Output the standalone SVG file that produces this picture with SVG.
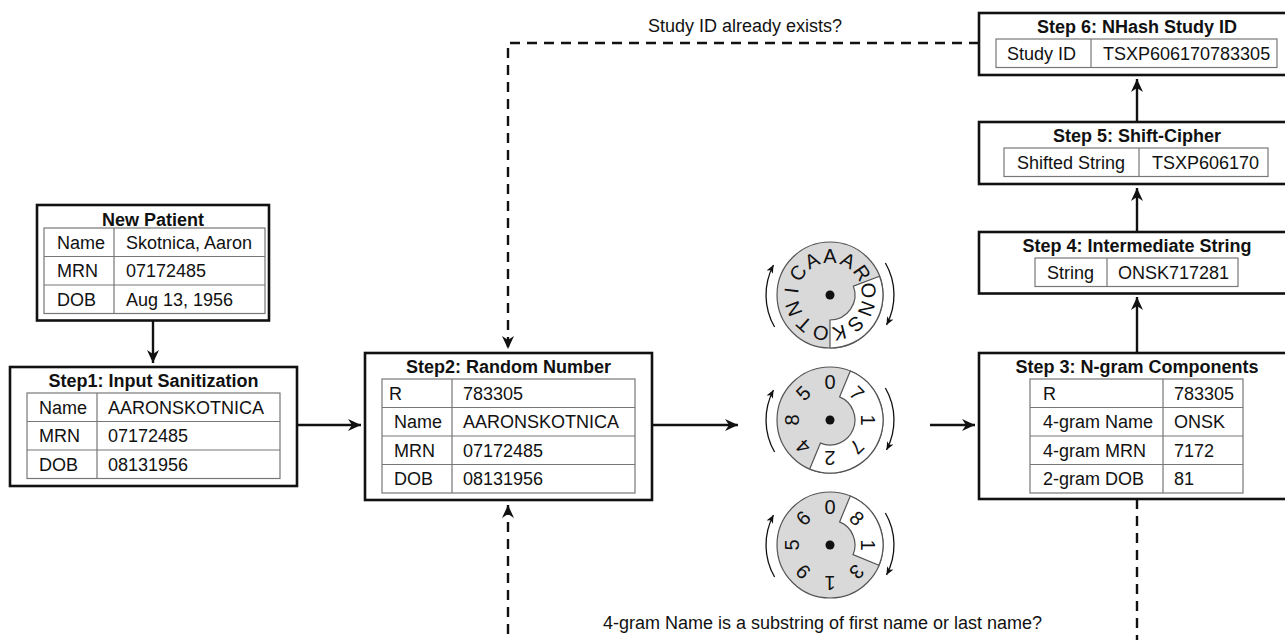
<svg xmlns="http://www.w3.org/2000/svg" width="1285" height="640" viewBox="0 0 1285 640">
<style>
.box{fill:#fff;stroke:#111;stroke-width:2.6}
.tbl{fill:none;stroke:#777;stroke-width:1.2}
.t{font-family:"Liberation Sans",Arial,sans-serif;font-size:18px;fill:#111}
.h{font-weight:bold;text-anchor:middle}
.m{text-anchor:middle}
.dt{font-family:"Liberation Sans",Arial,sans-serif;font-size:20px;fill:#111;text-anchor:middle}
.conn{fill:none;stroke:#111;stroke-width:2.4}
.dash{stroke-dasharray:10 7}
.dial{fill:#d9d9d9;stroke:#555;stroke-width:1.2}
.seg{fill:#fff;stroke:#555;stroke-width:1.2}
.rot{fill:none;stroke:#111;stroke-width:1.3}
</style>
<defs>
<marker id="ah" viewBox="0 0 14 14" refX="13" refY="7" markerWidth="14" markerHeight="14" markerUnits="userSpaceOnUse" orient="auto"><path d="M0,1 L13,7 L0,13 L4,7 Z" fill="#111"/></marker>
<marker id="sa" viewBox="0 0 10 10" refX="9" refY="5" markerWidth="9" markerHeight="9" markerUnits="userSpaceOnUse" orient="auto"><path d="M0,1 L9,5 L0,9 L2.5,5 Z" fill="#111"/></marker>
</defs>

<g id="connectors">
<path class="conn" d="M153,320.5 V363" marker-end="url(#ah)"/>
<path class="conn" d="M297,425 H361" marker-end="url(#ah)"/>
<path class="conn" d="M652,425 H738" marker-end="url(#ah)"/>
<path class="conn" d="M930,425 H975" marker-end="url(#ah)"/>
<path class="conn" d="M1137,353 V297" marker-end="url(#ah)"/>
<path class="conn" d="M1137,232 V188" marker-end="url(#ah)"/>
<path class="conn" d="M1137,122 V79" marker-end="url(#ah)"/>
<path class="conn dash" d="M979,43 H508 V349" marker-end="url(#ah)"/>
<path class="conn dash" d="M1137,499 V660 H508 V505" marker-end="url(#ah)"/>
<text class="t m" x="745" y="32">Study ID already exists?</text>
<text class="t m" x="822.5" y="629">4-gram Name is a substring of first name or last name?</text>
</g>

<g id="new-patient">
<rect class="box" x="37" y="205" width="232" height="115.5"/>
<text class="t h" x="153" y="226">New Patient</text>
<rect class="tbl" x="44" y="228" width="221" height="85.5"/>
<path class="tbl" d="M44,256.5 H265 M44,285 H265 M114,228 V313.5"/>
<text class="t" x="57" y="248.5">Name</text><text class="t" x="126" y="248.5">Skotnica, Aaron</text>
<text class="t" x="57" y="277">MRN</text><text class="t" x="126" y="277">07172485</text>
<text class="t" x="57" y="305.5">DOB</text><text class="t" x="126" y="305.5">Aug 13, 1956</text>
</g>

<g id="step1">
<rect class="box" x="10" y="367" width="287" height="119"/>
<text class="t h" x="153.5" y="387">Step1:  Input Sanitization</text>
<rect class="tbl" x="27" y="393" width="253" height="85.5"/>
<path class="tbl" d="M27,421.5 H280 M27,450 H280 M97,393 V478.5"/>
<text class="t" x="39" y="413.5">Name</text><text class="t" x="108" y="413.5">AARONSKOTNICA</text>
<text class="t" x="39" y="442">MRN</text><text class="t" x="108" y="442">07172485</text>
<text class="t" x="39" y="470.5">DOB</text><text class="t" x="108" y="470.5">08131956</text>
</g>

<g id="step2">
<rect class="box" x="365" y="353" width="287" height="147"/>
<text class="t h" x="508.5" y="373">Step2:  Random Number</text>
<rect class="tbl" x="382" y="379" width="253" height="114"/>
<path class="tbl" d="M382,407.5 H635 M382,436 H635 M382,464.5 H635 M452,379 V493"/>
<text class="t" x="389" y="399.5">R</text><text class="t" x="463" y="399.5">783305</text>
<text class="t" x="394" y="428">Name</text><text class="t" x="463" y="428">AARONSKOTNICA</text>
<text class="t" x="394" y="456.5">MRN</text><text class="t" x="463" y="456.5">07172485</text>
<text class="t" x="394" y="485">DOB</text><text class="t" x="463" y="485">08131956</text>
</g>

<g id="dial-name">
<circle class="dial" cx="830" cy="295" r="53"/>
<path class="seg" d="M879.56,276.21 A53,53 0 0 1 830,348 L830,320 A25,25 0 0 0 853.38,286.14 Z"/>
<circle cx="830" cy="295" r="4.5" fill="#111"/>
<g class="dt">
<text transform="translate(830 295) rotate(0)" y="-32">A</text>
<text transform="translate(830 295) rotate(27.69)" y="-32">A</text>
<text transform="translate(830 295) rotate(55.38)" y="-32">R</text>
<text transform="translate(830 295) rotate(83.08)" y="-32">O</text>
<text transform="translate(830 295) rotate(110.77)" y="-32">N</text>
<text transform="translate(830 295) rotate(138.46)" y="-32">S</text>
<text transform="translate(830 295) rotate(166.15)" y="-32">K</text>
<text transform="translate(830 295) rotate(193.85)" y="-32">O</text>
<text transform="translate(830 295) rotate(221.54)" y="-32">T</text>
<text transform="translate(830 295) rotate(249.23)" y="-32">N</text>
<text transform="translate(830 295) rotate(276.92)" y="-32">I</text>
<text transform="translate(830 295) rotate(304.62)" y="-32">C</text>
<text transform="translate(830 295) rotate(332.31)" y="-32">A</text>
</g>
<path class="rot" d="M774.6,327 A64,64 0 0 1 773.5,265" marker-end="url(#sa)"/>
<path class="rot" d="M885.4,263 A64,64 0 0 1 886.5,325" marker-end="url(#sa)"/>
</g>

<g id="dial-mrn">
<circle class="dial" cx="830" cy="420" r="53"/>
<path class="seg" d="M850.28,371.03 A53,53 0 0 1 809.72,468.97 L820.43,443.10 A25,25 0 0 0 839.57,396.90 Z"/>
<circle cx="830" cy="420" r="4.5" fill="#111"/>
<g class="dt">
<text transform="translate(830 420) rotate(0)" y="-31">0</text>
<text transform="translate(830 420) rotate(45)" y="-31">7</text>
<text transform="translate(830 420) rotate(90)" y="-31">1</text>
<text transform="translate(830 420) rotate(135)" y="-31">7</text>
<text transform="translate(830 420) rotate(180)" y="-31">2</text>
<text transform="translate(830 420) rotate(225)" y="-31">4</text>
<text transform="translate(830 420) rotate(270)" y="-31">8</text>
<text transform="translate(830 420) rotate(315)" y="-31">5</text>
</g>
<path class="rot" d="M774.6,452 A64,64 0 0 1 773.5,390" marker-end="url(#sa)"/>
<path class="rot" d="M885.4,388 A64,64 0 0 1 886.5,450" marker-end="url(#sa)"/>
</g>

<g id="dial-dob">
<circle class="dial" cx="830" cy="545" r="53"/>
<path class="seg" d="M850.28,496.03 A53,53 0 0 1 878.97,565.28 L853.10,554.57 A25,25 0 0 0 839.57,521.90 Z"/>
<circle cx="830" cy="545" r="4.5" fill="#111"/>
<g class="dt">
<text transform="translate(830 545) rotate(0)" y="-31">0</text>
<text transform="translate(830 545) rotate(45)" y="-31">8</text>
<text transform="translate(830 545) rotate(90)" y="-31">1</text>
<text transform="translate(830 545) rotate(135)" y="-31">3</text>
<text transform="translate(830 545) rotate(180)" y="-31">1</text>
<text transform="translate(830 545) rotate(225)" y="-31">9</text>
<text transform="translate(830 545) rotate(270)" y="-31">5</text>
<text transform="translate(830 545) rotate(315)" y="-31">6</text>
</g>
<path class="rot" d="M774.6,577 A64,64 0 0 1 773.5,515" marker-end="url(#sa)"/>
<path class="rot" d="M885.4,513 A64,64 0 0 1 886.5,575" marker-end="url(#sa)"/>
</g>

<g id="step3">
<rect class="box" x="979" y="353" width="316" height="146"/>
<text class="t h" x="1137" y="373">Step 3:  N-gram Components</text>
<rect class="tbl" x="1030" y="379" width="213" height="114"/>
<path class="tbl" d="M1030,407.5 H1243 M1030,436 H1243 M1030,464.5 H1243 M1163,379 V493"/>
<text class="t" x="1043" y="399.5">R</text><text class="t" x="1174" y="399.5">783305</text>
<text class="t" x="1043" y="428">4-gram Name</text><text class="t" x="1174" y="428">ONSK</text>
<text class="t" x="1043" y="456.5">4-gram MRN</text><text class="t" x="1174" y="456.5">7172</text>
<text class="t" x="1043" y="485">2-gram DOB</text><text class="t" x="1174" y="485">81</text>
</g>

<g id="step4">
<rect class="box" x="979" y="232" width="316" height="61.5"/>
<text class="t h" x="1137" y="252">Step 4:  Intermediate String</text>
<rect class="tbl" x="1035" y="258" width="203" height="28.5"/>
<path class="tbl" d="M1107,258 V286.5"/>
<text class="t" x="1047" y="278.5">String</text><text class="t" x="1118" y="278.5">ONSK717281</text>
</g>

<g id="step5">
<rect class="box" x="979" y="122" width="316" height="62"/>
<text class="t h" x="1137" y="142">Step 5:  Shift-Cipher</text>
<rect class="tbl" x="1004" y="148" width="264" height="28.5"/>
<path class="tbl" d="M1139,148 V176.5"/>
<text class="t" x="1017" y="168.5">Shifted String</text><text class="t" x="1152" y="168.5">TSXP606170</text>
</g>

<g id="step6">
<rect class="box" x="979" y="13" width="316" height="62"/>
<text class="t h" x="1137" y="33">Step 6:  NHash Study ID</text>
<rect class="tbl" x="996" y="39" width="281" height="28.5"/>
<path class="tbl" d="M1091,39 V67.5"/>
<text class="t" x="1007" y="59.5">Study ID</text><text class="t" x="1103" y="59.5">TSXP606170783305</text>
</g>
</svg>
